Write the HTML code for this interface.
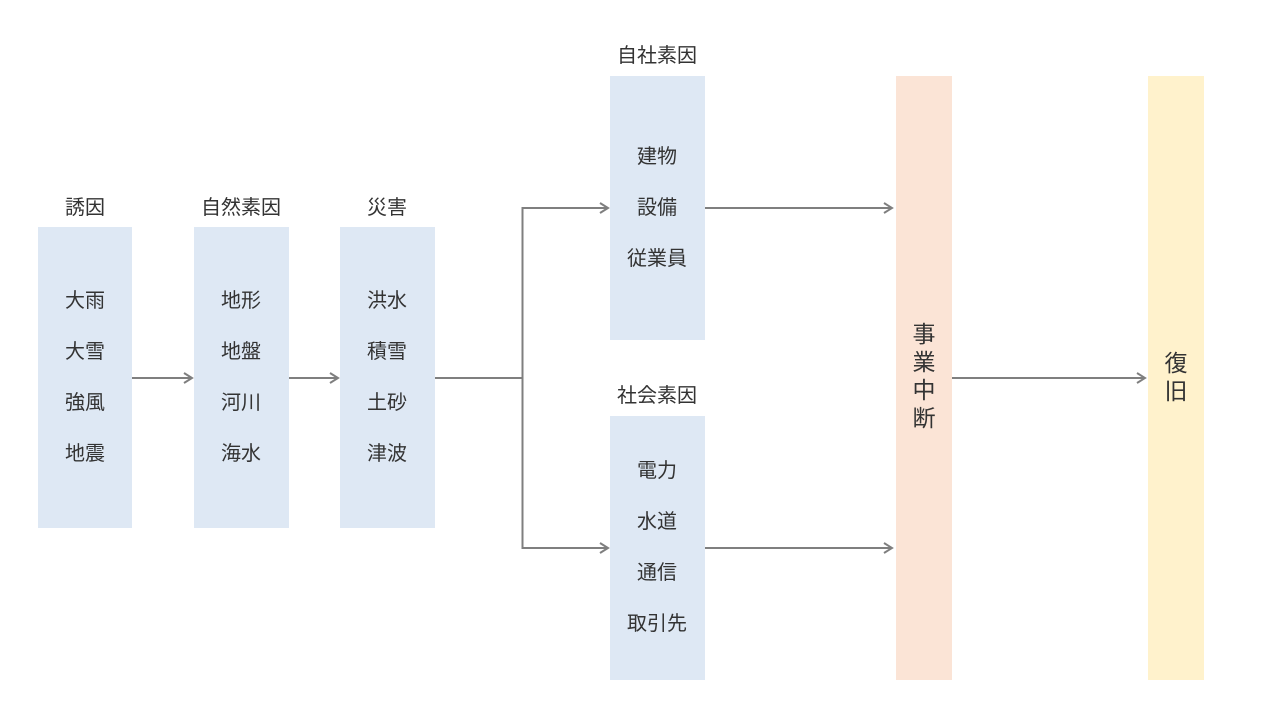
<!DOCTYPE html>
<html><head><meta charset="utf-8">
<style>
html,body{margin:0;padding:0;background:#fff;}
body{width:1280px;height:720px;position:relative;overflow:hidden;font-family:"Liberation Sans","Noto Sans CJK JP",sans-serif;color:#333;}
.b{position:absolute;background:#dee8f4;}
.t{position:absolute;font-size:20px;line-height:20px;text-align:center;white-space:nowrap;}
.v{position:absolute;font-size:23px;line-height:28px;text-align:center;width:56px;}
svg{position:absolute;left:0;top:0;}
</style></head><body>
<div class="b" style="left:38px;top:227px;width:94px;height:301px"></div>
<div class="b" style="left:194px;top:227px;width:95px;height:301px"></div>
<div class="b" style="left:340px;top:227px;width:95px;height:301px"></div>
<div class="b" style="left:610px;top:76px;width:95px;height:264px"></div>
<div class="b" style="left:610px;top:416px;width:95px;height:264px"></div>
<div class="b" style="left:896px;top:76px;width:56px;height:604px;background:#fbe4d6"></div>
<div class="b" style="left:1148px;top:76px;width:56px;height:604px;background:#fff2cc"></div>

<svg width="1280" height="720">
<g stroke="#7f7f7f" stroke-width="2" fill="none">
<line x1="132" y1="378" x2="192" y2="378"/><polyline points="184,373 192,378 184,383"/>
<line x1="289" y1="378" x2="338" y2="378"/><polyline points="330,373 338,378 330,383"/>
<polyline points="435,378 522.5,378"/>
<line x1="522.5" y1="207" x2="522.5" y2="549"/>
<line x1="522" y1="208" x2="608" y2="208"/><polyline points="600,203 608,208 600,213"/>
<line x1="522" y1="548" x2="608" y2="548"/><polyline points="600,543 608,548 600,553"/>
<line x1="705" y1="208" x2="892" y2="208"/><polyline points="884,203 892,208 884,213"/>
<line x1="705" y1="548" x2="892" y2="548"/><polyline points="884,543 892,548 884,553"/>
<line x1="952" y1="378" x2="1145" y2="378"/><polyline points="1137,373 1145,378 1137,383"/>
</g></svg>

<div class="t" style="left:35px;width:100px;top:198px">誘因</div>
<div class="t" style="left:191px;width:100px;top:198px">自然素因</div>
<div class="t" style="left:337px;width:100px;top:198px">災害</div>
<div class="t" style="left:607px;width:100px;top:46px">自社素因</div>
<div class="t" style="left:607px;width:100px;top:386px">社会素因</div>

<div class="t" style="left:35px;width:100px;top:291px">大雨</div>
<div class="t" style="left:35px;width:100px;top:342px">大雪</div>
<div class="t" style="left:35px;width:100px;top:393px">強風</div>
<div class="t" style="left:35px;width:100px;top:444px">地震</div>

<div class="t" style="left:191px;width:100px;top:291px">地形</div>
<div class="t" style="left:191px;width:100px;top:342px">地盤</div>
<div class="t" style="left:191px;width:100px;top:393px">河川</div>
<div class="t" style="left:191px;width:100px;top:444px">海水</div>

<div class="t" style="left:337px;width:100px;top:291px">洪水</div>
<div class="t" style="left:337px;width:100px;top:342px">積雪</div>
<div class="t" style="left:337px;width:100px;top:393px">土砂</div>
<div class="t" style="left:337px;width:100px;top:444px">津波</div>

<div class="t" style="left:607px;width:100px;top:147px">建物</div>
<div class="t" style="left:607px;width:100px;top:198px">設備</div>
<div class="t" style="left:607px;width:100px;top:249px">従業員</div>

<div class="t" style="left:607px;width:100px;top:461px">電力</div>
<div class="t" style="left:607px;width:100px;top:512px">水道</div>
<div class="t" style="left:607px;width:100px;top:563px">通信</div>
<div class="t" style="left:607px;width:100px;top:614px">取引先</div>

<div class="v" style="left:896px;top:320px">事<br>業<br>中<br>断</div>
<div class="v" style="left:1148px;top:349px">復<br>旧</div>
</body></html>
